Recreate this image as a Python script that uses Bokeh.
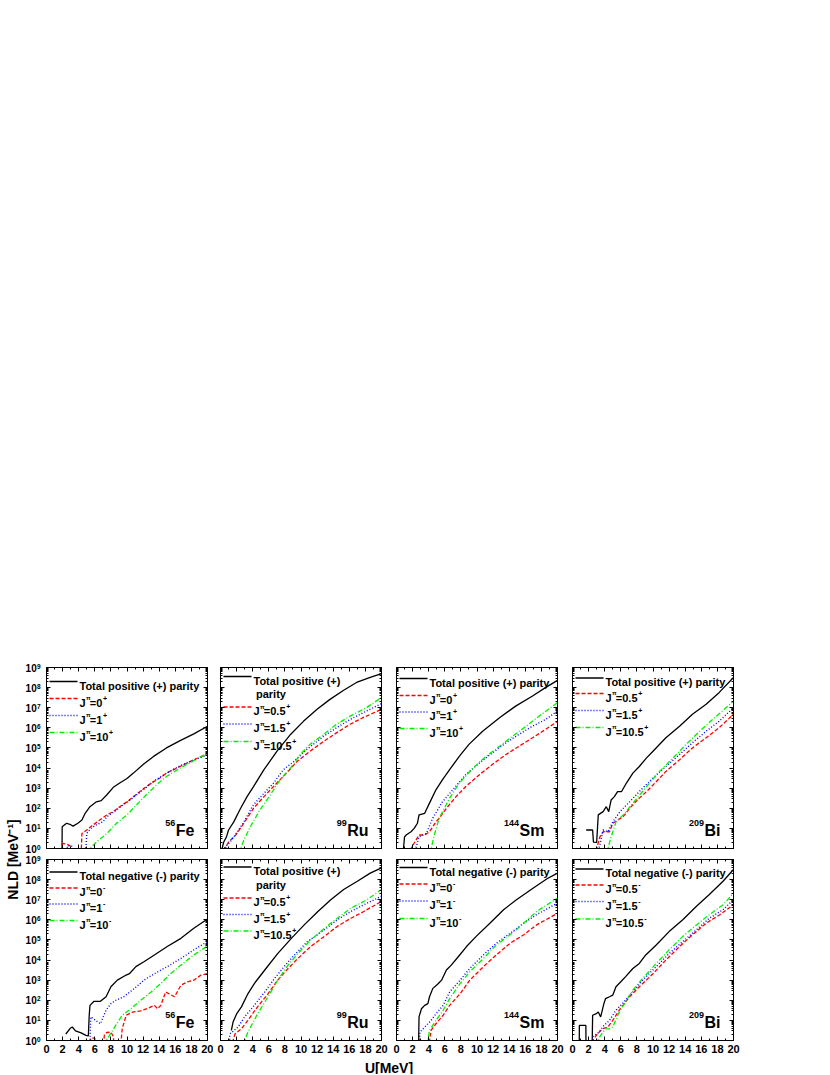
import math
from bokeh.plotting import figure
from bokeh.layouts import column, row
from bokeh.models import (LinearAxis, LogAxis, FixedTicker, CustomJSTickFormatter,
                          Range1d, Spacer)
from bokeh.embed import file_html
from bokeh.resources import INLINE
from bokeh.core.properties import value

# ---------------------------------------------------------------- data
# U in MeV, NLD in MeV^-1 (0.05 = below the axis)
x_ticks = [0, 2, 4, 6, 8, 10, 12, 14, 16, 18, 20]
x_minor = [1, 3, 5, 7, 9, 11, 13, 15, 17, 19]
y_ticks = [1e0, 1e1, 1e2, 1e3, 1e4, 1e5, 1e6, 1e7, 1e8, 1e9]

# ---- 56Fe, positive parity
fe_p_tot_u = [1.9, 1.95, 2.5, 2.9, 3.3, 3.9, 4.4, 4.8, 5.4, 6.2, 6.8, 7.5, 8.3, 9.1, 10.0, 10.8, 12.0, 13.3, 14.9, 16.6, 18.3, 20.0]
fe_p_tot = [0.05, 12, 18, 16, 13, 18, 26, 56, 120, 210, 240, 470, 1100, 1800, 3000, 5600, 15000, 38000, 1.0e5, 2.3e5, 5.0e5, 1.2e6]
fe_p_j0_u = [1.9, 2.0, 2.6, 3.0, 3.3, 4.2, 4.4, 5.0, 5.8, 6.6, 7.5, 8.3, 9.1, 10.0, 10.8, 11.6, 12.4, 13.3, 14.1, 14.9, 16.6, 18.3, 20.0]
fe_p_j0 = [0.05, 1.8, 1.6, 1.3, 0.05, 0.05, 5.6, 8.3, 15, 26, 47, 68, 120, 210, 380, 680, 1200, 2100, 3200, 5600, 12000, 26000, 50000]
fe_p_j1_u = [2.4, 2.6, 3.2, 3.5, 4.7, 5.0, 5.5, 6.2, 7.0, 7.5, 8.3, 9.1, 10.0, 10.8, 11.6, 12.4, 13.3, 14.1, 14.9, 16.6, 18.3, 20.0]
fe_p_j1 = [0.05, 1.4, 1.3, 0.05, 0.05, 5.6, 10, 15, 21, 38, 63, 110, 200, 350, 630, 1100, 2200, 3500, 5600, 13000, 25000, 45000]
fe_p_j10_u = [5.3, 5.4, 6.2, 7.5, 8.7, 10.0, 11.2, 12.4, 13.7, 14.9, 16.6, 18.3, 20.0]
fe_p_j10 = [0.05, 1.0, 2.1, 5.6, 18, 47, 150, 470, 1500, 3800, 10000, 23000, 56000]

# ---- 56Fe, negative parity
fe_n_tot_u = [2.4, 3.0, 3.2, 3.6, 4.3, 4.9, 5.2, 5.3, 5.4, 5.9, 6.7, 7.4, 8.0, 8.8, 9.9, 10.3, 11.1, 12.1, 13.4, 15.0, 16.7, 18.3, 20.0]
fe_n_tot = [2.1, 4.2, 4.7, 3.0, 2.4, 1.8, 1.7, 16, 56, 89, 89, 150, 470, 1000, 1800, 2100, 4700, 8300, 18000, 47000, 1.2e5, 3.8e5, 1.1e6]
fe_n_j0_u = [5.2, 5.5, 6.0, 6.8, 7.2, 7.5, 8.0, 8.3, 8.6, 9.0, 9.4, 9.9, 10.7, 11.7, 12.5, 13.4, 13.8, 14.2, 14.8, 15.2, 15.9, 16.7, 17.5, 18.3, 19.2, 20.0]
fe_n_j0 = [0.05, 1.3, 1.3, 0.05, 2.0, 2.5, 2.6, 1.6, 0.05, 0.05, 3.8, 18, 26, 30, 38, 56, 38, 56, 260, 210, 150, 560, 830, 1000, 1800, 2100]
fe_n_j1_u = [5.3, 5.5, 6.1, 6.7, 7.4, 8.0, 8.6, 9.6, 10.9, 12.1, 13.4, 15.0, 16.7, 18.3, 20.0]
fe_n_j1 = [0.05, 15, 10, 6.8, 32, 68, 100, 150, 380, 1000, 2100, 4700, 12000, 32000, 83000]
fe_n_j10_u = [7.3, 7.4, 8.0, 8.6, 9.4, 10.5, 11.7, 13.0, 14.2, 15.4, 16.7, 18.3, 20.0]
fe_n_j10 = [0.05, 1.0, 2.3, 5.6, 18, 38, 100, 260, 680, 2100, 5600, 18000, 50000]

# ---- 99Ru, upper panel
ru_a_tot_u = [0.15, 0.2, 0.4, 0.74, 1.0, 1.65, 2.5, 3.3, 4.1, 5.4, 7.0, 8.7, 10.3, 12.0, 13.6, 15.3, 16.9, 18.6, 20.0]
ru_a_tot = [0.05, 1.0, 2.1, 3.8, 8.3, 21, 100, 380, 1200, 8300, 68000, 4.7e5, 2.1e6, 8.3e6, 2.6e7, 7.4e7, 1.8e8, 3.2e8, 5.0e8]
ru_a_j05_u = [0.5, 0.6, 1.0, 1.9, 2.9, 4.1, 5.4, 7.0, 8.2, 9.5, 11.1, 12.8, 14.4, 16.1, 17.7, 20.0]
ru_a_j05 = [0.05, 1.0, 2.1, 4.7, 18, 100, 380, 1800, 5600, 21000, 68000, 2.1e5, 5.6e5, 1.5e6, 3.2e6, 8.3e6]
ru_a_j15_u = [0.3, 0.4, 1.2, 2.1, 2.9, 4.1, 5.4, 6.6, 7.8, 9.1, 10.7, 12.8, 14.4, 16.1, 17.7, 20.0]
ru_a_j15 = [0.05, 1.0, 2.1, 6.8, 21, 150, 560, 1800, 8300, 21000, 83000, 3.8e5, 1.0e6, 2.6e6, 5.6e6, 1.6e7]
ru_a_j105_u = [2.4, 2.5, 2.9, 3.7, 4.9, 6.2, 7.4, 8.7, 9.9, 11.1, 12.8, 14.4, 16.1, 18.1, 20.0]
ru_a_j105 = [0.05, 1.0, 2.6, 12, 83, 470, 2600, 10000, 47000, 1.5e5, 4.7e5, 1.5e6, 3.8e6, 1.0e7, 3.2e7]

# ---- 99Ru, lower panel
ru_b_tot_u = [1.35, 1.56, 2.0, 2.6, 3.4, 4.2, 5.5, 7.1, 8.8, 10.4, 12.1, 13.7, 15.3, 17.0, 18.6, 20.0]
ru_b_tot = [3.2, 8.3, 21, 47, 210, 680, 3200, 21000, 1.2e5, 5.6e5, 2.6e6, 1.0e7, 3.2e7, 8.3e7, 2.1e8, 3.8e8]
ru_b_j05_u = [1.5, 1.56, 1.8, 2.6, 3.4, 4.6, 5.9, 7.1, 8.4, 9.6, 11.2, 12.9, 14.5, 16.2, 17.8, 20.0]
ru_b_j05 = [0.05, 1.0, 2.1, 3.8, 10, 47, 210, 1000, 3800, 12000, 47000, 1.5e5, 4.7e5, 1.2e6, 2.6e6, 8.3e6]
ru_b_j15_u = [1.1, 1.15, 2.2, 3.0, 4.2, 5.5, 6.7, 7.9, 9.2, 10.8, 12.9, 14.5, 16.2, 17.8, 20.0]
ru_b_j15 = [0.05, 2.1, 4.7, 15, 56, 260, 1200, 4700, 18000, 83000, 3.2e5, 1.0e6, 2.6e6, 5.6e6, 1.5e7]
ru_b_j105_u = [2.9, 3.0, 3.4, 4.6, 5.9, 7.1, 8.4, 9.6, 11.2, 12.9, 14.5, 16.2, 18.2, 20.0]
ru_b_j105 = [0.05, 1.0, 2.6, 21, 150, 1000, 5600, 21000, 1.0e5, 3.8e5, 1.2e6, 3.8e6, 1.0e7, 3.2e7]

# ---- 144Sm, positive parity
sm_p_tot_u = [0.85, 0.87, 1.0, 1.2, 1.8, 2.2, 2.6, 2.8, 3.5, 4.1, 4.9, 5.7, 6.6, 7.8, 9.0, 10.7, 12.8, 14.8, 16.9, 18.5, 20.0]
sm_p_tot = [0.05, 1.0, 3.8, 4.7, 6.8, 10, 18, 47, 56, 180, 830, 2600, 8300, 38000, 1.5e5, 6.8e5, 3.2e6, 1.2e7, 3.8e7, 1.0e8, 2.3e8]
sm_p_j0_u = [1.7, 1.8, 2.8, 3.5, 4.1, 4.9, 5.3, 6.2, 7.4, 8.6, 10.3, 11.9, 13.6, 15.2, 16.9, 18.5, 20.0]
sm_p_j0 = [0.05, 1.0, 4.7, 4.7, 6.8, 21, 32, 100, 380, 1200, 4700, 15000, 47000, 1.2e5, 3.2e5, 8.3e5, 2.1e6]
sm_p_j1_u = [2.3, 2.4, 2.8, 3.7, 4.5, 5.7, 7.0, 8.6, 10.3, 11.9, 13.6, 15.2, 16.9, 18.5, 20.0]
sm_p_j1 = [0.05, 1.0, 3.8, 5.6, 32, 210, 830, 4700, 18000, 56000, 1.8e5, 4.7e5, 1.2e6, 2.6e6, 6.8e6]
sm_p_j10_u = [4.2, 4.3, 4.7, 5.3, 6.6, 7.8, 9.5, 11.1, 12.8, 14.4, 16.1, 17.7, 20.0]
sm_p_j10 = [0.05, 1.0, 4.7, 32, 320, 1800, 10000, 38000, 1.2e5, 3.8e5, 1.2e6, 3.8e6, 1.8e7]

# ---- 144Sm, negative parity
sm_n_tot_u = [2.7, 2.8, 3.1, 3.5, 3.9, 4.1, 4.5, 5.2, 5.6, 6.2, 6.8, 7.7, 8.7, 9.9, 11.6, 13.3, 14.9, 17.0, 18.7, 20.0]
sm_n_tot = [0.05, 15, 38, 56, 68, 150, 380, 680, 1000, 3200, 5600, 15000, 47000, 1.5e5, 6.8e5, 3.2e6, 1.0e7, 3.8e7, 1.1e8, 2.1e8]
sm_n_j0_u = [4.0, 4.1, 4.3, 4.9, 5.8, 6.6, 7.9, 9.1, 10.8, 12.4, 14.1, 15.8, 17.4, 20.0]
sm_n_j0 = [0.05, 1.0, 3.2, 6.8, 18, 56, 210, 1000, 4700, 18000, 68000, 1.8e5, 5.6e5, 2.1e6]
sm_n_j1_u = [2.8, 2.9, 3.7, 4.3, 4.9, 5.8, 6.6, 7.9, 9.1, 10.8, 12.4, 14.1, 15.8, 17.4, 20.0]
sm_n_j1 = [0.05, 2.6, 5.6, 10, 21, 56, 260, 1000, 3800, 18000, 68000, 2.1e5, 6.8e5, 1.8e6, 6.8e6]
sm_n_j10_u = [3.8, 3.9, 4.1, 4.9, 5.8, 6.6, 7.9, 9.1, 10.8, 12.4, 14.1, 15.8, 17.4, 20.0]
sm_n_j10 = [0.05, 1.0, 3.2, 10, 32, 120, 680, 2600, 12000, 56000, 1.8e5, 6.8e5, 2.6e6, 1.2e7]

# ---- 209Bi, positive parity
bi_p_tot_u = [1.7, 2.5, 2.6, 3.0, 3.2, 3.8, 4.2, 4.5, 4.8, 5.2, 5.6, 6.1, 6.7, 7.5, 8.3, 9.2, 10.0, 11.6, 13.3, 14.9, 16.6, 18.2, 20.0]
bi_p_tot = [8.3, 8.3, 2.1, 2.0, 47, 68, 120, 68, 260, 380, 680, 680, 1800, 5600, 12000, 32000, 68000, 3.2e5, 1.2e6, 4.7e6, 1.5e7, 5.6e7, 3.2e8]
bi_p_j05_u = [2.9, 3.0, 3.4, 3.8, 4.6, 5.0, 5.6, 6.3, 7.1, 8.3, 9.2, 10.4, 11.6, 13.3, 14.9, 16.6, 18.2, 20.0]
bi_p_j05 = [0.05, 1.0, 3.8, 6.8, 6.8, 18, 26, 38, 100, 320, 680, 2100, 6800, 26000, 1.0e5, 3.2e5, 1.0e6, 4.7e6]
bi_p_j15_u = [3.2, 3.3, 3.8, 4.4, 5.0, 5.9, 7.1, 8.3, 10.0, 11.6, 13.3, 14.9, 16.6, 18.2, 20.0]
bi_p_j15 = [0.05, 1.0, 8.3, 6.8, 21, 68, 210, 680, 3200, 12000, 47000, 1.8e5, 6.8e5, 2.1e6, 1.0e7]
bi_p_j105_u = [4.3, 4.4, 4.8, 5.4, 6.3, 7.5, 9.2, 10.8, 12.5, 14.1, 15.8, 17.4, 20.0]
bi_p_j105 = [0.05, 1.0, 3.8, 21, 47, 180, 1200, 6800, 32000, 1.5e5, 6.8e5, 2.6e6, 2.1e7]

# ---- 209Bi, negative parity
bi_n_tot_u = [0.83, 0.85, 1.66, 1.7, 2.4, 2.5, 2.9, 3.2, 3.5, 3.9, 4.1, 4.6, 5.0, 5.4, 6.0, 6.6, 7.5, 8.3, 9.1, 10.4, 12.0, 13.7, 15.4, 17.0, 18.7, 20.0]
bi_n_tot = [0.05, 5.6, 5.6, 0.05, 0.05, 18, 21, 26, 15, 68, 120, 150, 180, 470, 830, 1500, 3800, 6800, 18000, 56000, 2.6e5, 1.0e6, 4.7e6, 1.8e7, 8.3e7, 3.2e8]
bi_n_j05_u = [2.4, 2.5, 3.1, 3.7, 4.4, 5.0, 5.8, 7.1, 8.3, 10.0, 11.6, 13.3, 14.9, 16.6, 18.3, 20.0]
bi_n_j05 = [0.05, 1.0, 2.1, 3.8, 4.7, 10, 32, 150, 470, 2100, 10000, 47000, 1.8e5, 6.8e5, 1.8e6, 5.6e6]
bi_n_j15_u = [2.4, 2.5, 3.3, 3.9, 4.6, 5.4, 6.2, 7.5, 8.7, 10.4, 12.0, 13.7, 15.4, 17.0, 18.7, 20.0]
bi_n_j15 = [0.05, 1.5, 2.6, 5.6, 10, 32, 68, 260, 1000, 4700, 21000, 83000, 3.2e5, 1.2e6, 3.2e6, 1.0e7]
bi_n_j105_u = [3.0, 3.1, 3.5, 4.1, 4.6, 5.0, 5.7, 6.2, 7.5, 8.7, 10.4, 12.0, 13.7, 15.4, 17.0, 18.7, 20.0]
bi_n_j105 = [0.05, 1.0, 1.8, 3.8, 3.8, 4.7, 21, 47, 320, 1200, 6800, 32000, 1.5e5, 5.6e5, 1.8e6, 5.6e6, 2.1e7]

# legend texts
total_pos = ["Total positive (+) parity"]
total_pos_wrapped = ["Total positive (+)", "parity"]
total_neg = ["Total negative (-) parity"]
j_int = ["0", "1", "10"]
j_half = ["0.5", "1.5", "10.5"]

# ---------------------------------------------------------------- layout / style
FONT = "Liberation Sans"
FW, FH = 161, 181
LEFT_B = [4, 7, 8, 8]
RIGHT_B = [6, 7, 7, 8]
TOP_B = [10, 6]
BOT_B = [5, 18]
LEFT_FIG_W = 42          # holds the y title and the y tick labels of the first column
TOP_SPACE = 657
XLAB_H = 16

STYLES = [
    dict(line_color="black", line_width=1.3),
    dict(line_color="#ff0000", line_width=1.3, line_dash="4 2"),
    dict(line_color="#0000ff", line_width=1.4, line_dash="1 2"),
    dict(line_color="#00f000", line_width=1.3, line_dash="5 2 1 2"),
]

AW = {'J': 556, '=': 584, '.': 278, '+': 584, '-': 333, 'π': 600,
      'F': 611, 'e': 556, 'R': 722, 'u': 611, 'S': 667, 'm': 889, 'B': 722, 'i': 278}


def tw(s, size):
    return sum(AW.get(c, 556) for c in s) * size / 1000.0


def dx(px):
    return px * 20.0 / FW


def dy(py):
    return 10 ** (9 - py * 9.0 / FH)


def txt(p, x, y, s, xo, yo, size, align="left", baseline="alphabetic", angle=0.0):
    p.text(x=[x], y=[y], text=[s], x_offset=xo, y_offset=yo, angle=angle,
           text_font=value(FONT), text_font_style="bold", text_font_size=f"{size}px",
           text_align=align, text_baseline=baseline, text_color="black")


def blank_formatter():
    return CustomJSTickFormatter(code="return ''")


def style_axis(ax, show_labels, size):
    ax.major_tick_in = 4
    ax.major_tick_out = 0
    ax.minor_tick_in = 2
    ax.minor_tick_out = 0
    ax.axis_line_color = "black"
    ax.major_tick_line_color = "black"
    ax.minor_tick_line_color = "black"
    if show_labels:
        ax.major_label_text_font = FONT
        ax.major_label_text_font_style = "bold"
        ax.major_label_text_font_size = size
        ax.major_label_text_color = "black"
    else:
        ax.formatter = blank_formatter()
        ax.major_label_standoff = 0


def make_panel(ci, ri, series, total_lines, jvals, sign, rows, mass, sym):
    lb, rb, tb, bb = LEFT_B[ci], RIGHT_B[ci], TOP_B[ri], BOT_B[ri]
    p = figure(width=lb + FW + rb, height=tb + FH + bb,
               x_range=Range1d(0, 20), y_range=Range1d(1, 1e9), y_axis_type="log",
               output_backend="svg", toolbar_location=None,
               min_border_left=lb, min_border_right=rb, min_border_top=tb, min_border_bottom=bb,
               background_fill_color="white", border_fill_color="white")
    p.outline_line_color = "black"
    p.xgrid.visible = False
    p.ygrid.visible = False

    yminor = [m * d for d in y_ticks[:-1] for m in range(2, 10)]
    p.xaxis.ticker = FixedTicker(ticks=x_ticks, minor_ticks=x_minor)
    p.yaxis.ticker = FixedTicker(ticks=y_ticks, minor_ticks=yminor)
    style_axis(p.xaxis[0], ri == 1, "11px")
    p.xaxis[0].major_label_standoff = 4 if ri == 1 else 0
    style_axis(p.yaxis[0], False, "0px")

    top_ax = LinearAxis(ticker=FixedTicker(ticks=x_ticks, minor_ticks=x_minor))
    style_axis(top_ax, False, "0px")
    p.add_layout(top_ax, "above")
    right_ax = LogAxis(ticker=FixedTicker(ticks=y_ticks, minor_ticks=yminor))
    style_axis(right_ax, False, "0px")
    p.add_layout(right_ax, "right")

    # curves
    for k, (u, n) in enumerate(series):
        p.line(u, n, **STYLES[k])

    # legend (manual, to allow superscripts)
    LX0, LX1, TX = 3, 31, 33
    for k in range(4):
        p.line([dx(LX0), dx(LX1)], [dy(rows[k]), dy(rows[k])], **STYLES[k])
    for li, s in enumerate(total_lines):
        txt(p, 0, 1e9, s, TX + (2.5 if li else 0), rows[0] + 4 + li * 13.5, 11)
    for k, jv in enumerate(jvals):
        base = rows[k + 1] + 4
        x = TX
        txt(p, 0, 1e9, "J", x, base, 11)
        x += tw("J", 11) + 0.4
        txt(p, 0, 1e9, "π", x, base - 4.5, 6)
        x += tw("π", 6) + 0.2
        s = "=" + jv
        txt(p, 0, 1e9, s, x, base, 11)
        x += tw(s, 11) + 0.6
        txt(p, 0, 1e9, sign, x, base - 4.5, 7)

    # nucleus label
    txt(p, 20, 1, sym, -13, -18, 16, align="right")
    txt(p, 20, 1, mass, -13 - tw(sym, 16) - 0.5, -26, 9, align="right")
    return p


panels_top = [
    make_panel(0, 0, [(fe_p_tot_u, fe_p_tot), (fe_p_j0_u, fe_p_j0), (fe_p_j1_u, fe_p_j1), (fe_p_j10_u, fe_p_j10)],
               total_pos, j_int, "+", [14, 31, 48, 65], "56", "Fe"),
    make_panel(1, 0, [(ru_a_tot_u, ru_a_tot), (ru_a_j05_u, ru_a_j05), (ru_a_j15_u, ru_a_j15), (ru_a_j105_u, ru_a_j105)],
               total_pos_wrapped, j_half, "+", [9, 39.5, 56.5, 74], "99", "Ru"),
    make_panel(2, 0, [(sm_p_tot_u, sm_p_tot), (sm_p_j0_u, sm_p_j0), (sm_p_j1_u, sm_p_j1), (sm_p_j10_u, sm_p_j10)],
               total_pos, j_int, "+", [11, 28, 44.5, 61], "144", "Sm"),
    make_panel(3, 0, [(bi_p_tot_u, bi_p_tot), (bi_p_j05_u, bi_p_j05), (bi_p_j15_u, bi_p_j15), (bi_p_j105_u, bi_p_j105)],
               total_pos, j_half, "+", [10.5, 26, 43, 60], "209", "Bi"),
]
panels_bot = [
    make_panel(0, 1, [(fe_n_tot_u, fe_n_tot), (fe_n_j0_u, fe_n_j0), (fe_n_j1_u, fe_n_j1), (fe_n_j10_u, fe_n_j10)],
               total_neg, j_int, "-", [12.5, 28.5, 44.5, 61], "56", "Fe"),
    make_panel(1, 1, [(ru_b_tot_u, ru_b_tot), (ru_b_j05_u, ru_b_j05), (ru_b_j15_u, ru_b_j15), (ru_b_j105_u, ru_b_j105)],
               total_pos_wrapped, j_half, "+", [7.5, 38.5, 55, 71.5], "99", "Ru"),
    make_panel(2, 1, [(sm_n_tot_u, sm_n_tot), (sm_n_j0_u, sm_n_j0), (sm_n_j1_u, sm_n_j1), (sm_n_j10_u, sm_n_j10)],
               total_neg, j_int, "-", [8, 24.5, 41.5, 59], "144", "Sm"),
    make_panel(3, 1, [(bi_n_tot_u, bi_n_tot), (bi_n_j05_u, bi_n_j05), (bi_n_j15_u, bi_n_j15), (bi_n_j105_u, bi_n_j105)],
               total_neg, j_half, "-", [9.5, 25.5, 42, 59.5], "209", "Bi"),
]

H_TOP = TOP_B[0] + FH + BOT_B[0]
H_BOT = TOP_B[1] + FH + BOT_B[1]
H_ALL = H_TOP + H_BOT
GRID_W = sum(LEFT_B) + sum(RIGHT_B) + 4 * FW


def text_fig(w, h):
    # a plain canvas whose data units are its own pixels (y measured from its bottom)
    f = figure(width=w, height=h, x_range=Range1d(0, w), y_range=Range1d(0, h),
               x_axis_type=None, y_axis_type=None, min_border=0,
               output_backend="svg", toolbar_location=None,
               background_fill_color="white", border_fill_color="white")
    f.outline_line_color = None
    f.xgrid.visible = False
    f.ygrid.visible = False
    return f


# left strip: y title centred between the rows + y tick labels of the first column
ylab = text_fig(LEFT_FIG_W, H_ALL)
ylab.text(x=[12.5], y=[H_ALL - (859 - TOP_SPACE)],
          text=["NLD [MeV⁻¹]"], angle=math.pi / 2,
          text_font=value(FONT), text_font_style="bold", text_font_size="14px",
          text_align="center", text_baseline="middle", text_color="black")

LABEL_RIGHT = LEFT_FIG_W + LEFT_B[0] - 6      # 6 px left of the frame
EXP_W = 3.8
frame_bottoms = [H_ALL - (TOP_B[0] + FH), H_BOT - (TOP_B[1] + FH)]   # in strip coords (from bottom)
for fb in frame_bottoms:
    for t in y_ticks:
        k = int(round(math.log10(t)))
        yk = fb + k * FH / 9.0
        ylab.text(x=[LABEL_RIGHT - EXP_W], y=[yk], text=["10"],
                  text_font=value(FONT), text_font_style="bold", text_font_size="10px",
                  text_align="right", text_baseline="middle", text_color="black")
        ylab.text(x=[LABEL_RIGHT - EXP_W + 0.3], y=[yk], y_offset=-1.5, text=[str(k)],
                  text_font=value(FONT), text_font_style="bold", text_font_size="6.5px",
                  text_align="left", text_baseline="alphabetic", text_color="black")

# x title
xlab = text_fig(GRID_W, XLAB_H)
xlab.text(x=[388.5 - LEFT_FIG_W], y=[7.0], text=["U[MeV]"],
          text_font=value(FONT), text_font_style="bold", text_font_size="14px",
          text_align="center", text_baseline="middle", text_color="black")

grid = column(row(*panels_top), row(*panels_bot), xlab)
page = column(Spacer(width=10, height=TOP_SPACE), row(ylab, grid))

open("out.html", "w").write(file_html(page, INLINE))
